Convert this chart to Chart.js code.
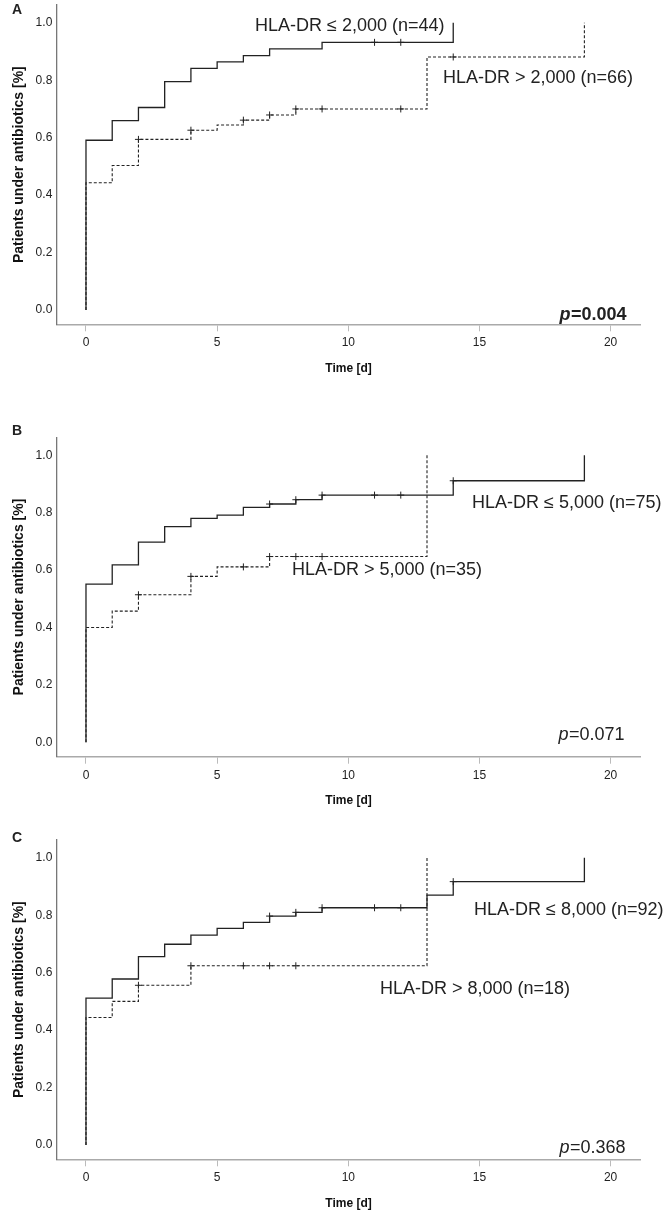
<!DOCTYPE html>
<html lang="en">
<head>
    <meta charset="UTF-8">
    <meta name="viewport" content="width=device-width, initial-scale=1.0">
    <title>HLA-DR and antibiotic therapy</title>
    <script src="https://cdn.jsdelivr.net/npm/chart.js"></script>
    <style>
        html, body { margin: 0; padding: 0; background: #fff; }
        #wrap { position: relative; width: 667px; height: 1216px; overflow: hidden; }
        canvas { position: absolute; left: 0; }
    </style>
</head>
<body>

    <div id="wrap">
        <canvas id="chartA" width="667" height="405" style="top:0px"></canvas>
        <canvas id="chartB" width="667" height="410" style="top:405px"></canvas>
        <canvas id="chartC" width="667" height="401" style="top:815px"></canvas>
    </div>

    <script>
        // tick labels
        const xTicks = [0, 5, 10, 15, 20];
        const yTicks = [0, 0.2, 0.4, 0.6, 0.8, 1.0];

        // Panel A: HLA-DR <= 2,000 (solid) vs > 2,000 (dashed)
        const aLowDays = [0, 0, 1, 2, 3, 4, 5, 6, 7, 9, 14];
        const aLowRate = [0, 0.591, 0.659, 0.705, 0.795, 0.841, 0.864, 0.886, 0.909, 0.932, 1.0];
        const aLowCensored = [11, 12];
        const aHighDays = [0, 0, 1, 2, 4, 5, 6, 7, 8, 13, 19];
        const aHighRate = [0, 0.443, 0.503, 0.594, 0.626, 0.644, 0.661, 0.679, 0.700, 0.881, 1.0];
        const aHighCensored = [2, 4, 6, 7, 8, 9, 12, 14];

        // Panel B: HLA-DR <= 5,000 (solid) vs > 5,000 (dashed)
        const bLowDays = [0, 0, 1, 2, 3, 4, 5, 6, 7, 8, 9, 14, 19];
        const bLowRate = [0, 0.551, 0.618, 0.697, 0.751, 0.780, 0.791, 0.818, 0.830, 0.845, 0.861, 0.911, 1.0];
        const bLowCensored = [7, 8, 9, 11, 12, 14];
        const bHighDays = [0, 0, 1, 2, 4, 5, 7, 13];
        const bHighRate = [0, 0.400, 0.457, 0.514, 0.578, 0.611, 0.647, 1.0];
        const bHighCensored = [2, 4, 6, 7, 8, 9];

        // Panel C: HLA-DR <= 8,000 (solid) vs > 8,000 (dashed)
        const cLowDays = [0, 0, 1, 2, 3, 4, 5, 6, 7, 8, 9, 13, 14, 19];
        const cLowRate = [0, 0.511, 0.578, 0.656, 0.699, 0.731, 0.754, 0.775, 0.797, 0.810, 0.826, 0.870, 0.917, 1.0];
        const cLowCensored = [7, 8, 9, 11, 12, 14];
        const cHighDays = [0, 0, 1, 2, 4, 13];
        const cHighRate = [0, 0.444, 0.500, 0.556, 0.624, 1.0];
        const cHighCensored = [2, 4, 6, 7, 8];

        const FONT = "'Liberation Sans', Arial, sans-serif";
        const INK = "#222";

        function levelAt(days, rate, d) {
            let v = rate[0];
            for (let i = 0; i < days.length; i++) {
                if (days[i] <= d) v = rate[i];
            }
            return v;
        }

        // draws panel letter, group labels and p value
        const panelText = {
            id: "panelText",
            afterDraw(chart, args, opts) {
                const ctx = chart.ctx;
                ctx.save();
                ctx.fillStyle = INK;
                (opts.items || []).forEach(item => {
                    ctx.font = item.font;
                    ctx.textAlign = item.align || "left";
                    ctx.textBaseline = item.baseline || "middle";
                    ctx.fillText(item.text, item.x, item.y);
                });
                if (opts.p) {
                    const p = opts.p;
                    ctx.textAlign = "left";
                    ctx.textBaseline = "alphabetic";
                    ctx.font = p.italicFont;
                    const w1 = ctx.measureText("p").width;
                    ctx.font = p.font;
                    const w2 = ctx.measureText(p.text).width;
                    const x0 = p.right - w1 - w2;
                    ctx.font = p.italicFont;
                    ctx.fillText("p", x0, p.y);
                    ctx.font = p.font;
                    ctx.fillText(p.text, x0 + w1 + 0.5, p.y);
                }
                ctx.restore();
            }
        };

        function makePanel(id, low, high, pad, text) {
            const lowLine = low.days.map((d, i) => ({ x: d, y: low.rate[i] }));
            const highLine = high.days.map((d, i) => ({ x: d, y: high.rate[i] }));
            const lowMarks = low.cens.map(d => ({ x: d, y: levelAt(low.days, low.rate, d) }));
            const highMarks = high.cens.map(d => ({ x: d, y: levelAt(high.days, high.rate, d) }));

            new Chart(document.getElementById(id), {
                type: "line",
                data: {
                    datasets: [
                        {
                            data: lowLine,
                            stepped: "before",
                            borderColor: INK,
                            borderWidth: 1.3,
                            pointRadius: 0,
                            fill: false
                        },
                        {
                            data: highLine,
                            stepped: "before",
                            borderColor: INK,
                            borderWidth: 1.1,
                            borderDash: [3, 2],
                            pointRadius: 0,
                            fill: false
                        },
                        {
                            data: lowMarks,
                            showLine: false,
                            pointStyle: "cross",
                            pointRadius: 3.5,
                            pointBorderWidth: 1,
                            pointBorderColor: INK
                        },
                        {
                            data: highMarks,
                            showLine: false,
                            pointStyle: "cross",
                            pointRadius: 3.5,
                            pointBorderWidth: 1,
                            pointBorderColor: INK
                        }
                    ]
                },
                options: {
                    responsive: false,
                    animation: false,
                    layout: { padding: { left: 0, right: 27, top: pad.top, bottom: pad.bottom } },
                    plugins: {
                        legend: { display: false },
                        tooltip: { enabled: false },
                        panelText: text
                    },
                    scales: {
                        x: {
                            type: "linear",
                            min: -1.105,
                            max: 21.12,
                            afterBuildTicks: s => { s.ticks = xTicks.map(v => ({ value: v })); },
                            afterFit: s => { s.height = 55; s.paddingLeft = 0; s.paddingRight = 0; },
                            border: { display: true, color: "#aaa", width: 1.5 },
                            grid: { drawOnChartArea: false, drawTicks: true, tickLength: 7, color: "#bbb" },
                            ticks: { color: INK, font: { family: FONT, size: 12 }, padding: 4.5, maxRotation: 0 },
                            title: {
                                display: true,
                                text: "Time [d]",
                                color: "#111",
                                font: { family: FONT, size: 12, weight: "bold" },
                                padding: { top: 0, bottom: 3.8 }
                            }
                        },
                        y: {
                            min: -0.05,
                            max: 1.062,
                            afterBuildTicks: s => { s.ticks = yTicks.map(v => ({ value: v })); },
                            afterFit: s => { s.width = 57; s.paddingTop = 0; s.paddingBottom = 0; },
                            border: { display: true, color: "#777", width: 1.3 },
                            grid: { display: false, drawTicks: false },
                            ticks: {
                                color: INK,
                                font: { family: FONT, size: 12 },
                                padding: 4.7,
                                callback: v => v.toFixed(1)
                            },
                            title: {
                                display: true,
                                text: "Patients under antibiotics [%]",
                                color: "#111",
                                font: { family: FONT, size: 14, weight: "bold" },
                                padding: { top: 11, bottom: 0 }
                            }
                        }
                    }
                },
                plugins: [panelText]
            });
        }

        const labelFont = "18px " + FONT;
        const letterFont = "bold 14px " + FONT;

        makePanel("chartA",
            { days: aLowDays, rate: aLowRate, cens: aLowCensored },
            { days: aHighDays, rate: aHighRate, cens: aHighCensored },
            { top: 5, bottom: 25.7 },
            {
                items: [
                    { text: "A", x: 12, y: 14, font: letterFont, baseline: "alphabetic" },
                    { text: "HLA-DR \u2264 2,000 (n=44)", x: 255, y: 26, font: labelFont },
                    { text: "HLA-DR > 2,000 (n=66)", x: 443, y: 78, font: labelFont }
                ],
                p: { text: "=0.004", right: 626, y: 320, font: "bold 18px " + FONT, italicFont: "italic bold 18px " + FONT }
            });

        makePanel("chartB",
            { days: bLowDays, rate: bLowRate, cens: bLowCensored },
            { days: bHighDays, rate: bHighRate, cens: bHighCensored },
            { top: 32.4, bottom: 3.3 },
            {
                items: [
                    { text: "B", x: 12, y: 30, font: letterFont, baseline: "alphabetic" },
                    { text: "HLA-DR \u2264 5,000 (n=75)", x: 472, y: 98, font: labelFont },
                    { text: "HLA-DR > 5,000 (n=35)", x: 292, y: 165, font: labelFont }
                ],
                p: { text: "=0.071", right: 624, y: 335, font: "18px " + FONT, italicFont: "italic 18px " + FONT }
            });

        makePanel("chartC",
            { days: cLowDays, rate: cLowRate, cens: cLowCensored },
            { days: cHighDays, rate: cHighRate, cens: cHighCensored },
            { top: 25, bottom: 1.7 },
            {
                items: [
                    { text: "C", x: 12, y: 27, font: letterFont, baseline: "alphabetic" },
                    { text: "HLA-DR \u2264 8,000 (n=92)", x: 474, y: 95, font: labelFont },
                    { text: "HLA-DR > 8,000 (n=18)", x: 380, y: 174, font: labelFont }
                ],
                p: { text: "=0.368", right: 625, y: 338, font: "18px " + FONT, italicFont: "italic 18px " + FONT }
            });
    </script>

</body>
</html>
